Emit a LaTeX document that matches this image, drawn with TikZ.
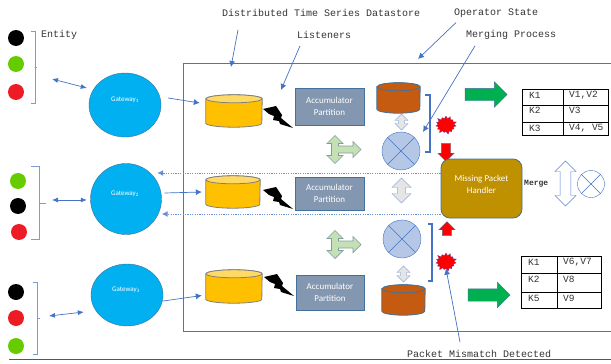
\documentclass[tikz,border=0pt]{standalone}
\usepackage{fontspec}
\setmainfont{Carlito}
\setmonofont{Liberation Mono}
\usetikzlibrary{arrows.meta,shapes.geometric,shapes.arrows,shapes.symbols}

\definecolor{lineblue}{HTML}{4472C4}
\definecolor{gatewayblue}{HTML}{00B0F0}
\definecolor{edgeblue}{HTML}{41719C}
\definecolor{accum}{HTML}{8497B0}
\definecolor{mergefill}{HTML}{B4C7E7}
\definecolor{handlergold}{HTML}{BF9000}
\definecolor{tgreen}{HTML}{C5E0B4}
\definecolor{tedge}{HTML}{7F9F9F}
\definecolor{dotgreen}{HTML}{66CC00}
\definecolor{dotred}{HTML}{ED1C24}
\definecolor{outgreen}{HTML}{00B050}
\definecolor{storebody}{HTML}{FFC000}
\definecolor{storeend}{HTML}{FFD966}
\definecolor{operfill}{HTML}{C55A11}

% name, x, y, width, height, body, end, edge
\newcommand{\drum}[8]{
    \node[rectangle, inner sep=0pt, minimum width=#4, minimum height=#5] (#1) at (#2,#3) {};
    \filldraw[fill=#6, draw=#8, line width=0.8pt] ([yshift=-4pt]#1.north west) -- ([yshift=4pt]#1.south west)
        arc[start angle=180, end angle=360, x radius={#4*0.5pt}, y radius=4pt] -- ([yshift=-4pt]#1.north east)
        arc[start angle=0, end angle=180, x radius={#4*0.5pt}, y radius=4pt] -- cycle;
    \filldraw[fill=#7, draw=#8, line width=0.8pt] ([yshift=-4pt]#1.north) ellipse[x radius={#4*0.5pt}, y radius=4pt];
}

\tikzset{
    link/.style={color=lineblue, line width=0.7pt, {Latex[length=6pt,width=5pt]}-{Latex[length=6pt,width=5pt]}},
    pointer/.style={color=lineblue, line width=0.7pt, -{Latex[length=6pt,width=6pt]}},
    dotlink/.style={color=lineblue!80, line width=1pt, dash pattern=on 1.2pt off 1.2pt, -{Latex[length=6pt,width=6pt]}},
    caption/.style={font=\ttfamily\fontsize{10}{10}\selectfont, inner sep=0pt, anchor=west, color=black!80},
    cell/.style={font=\ttfamily\fontsize{9.5}{10}\selectfont, inner sep=0pt, anchor=west, color=black!80},
    gateway/.style={ellipse, draw=edgeblue, fill=gatewayblue, inner sep=0pt},
    gwtext/.style={text=white, inner sep=0pt, font=\fontsize{7}{8}\selectfont},
    accumbox/.style={rectangle, draw=edgeblue, line width=0.8pt, fill=accum, text=white, inner sep=0pt, align=center, font=\fontsize{9}{12}\selectfont},
    merger/.style={circle, draw=lineblue, inner sep=0pt},
    burst/.style={starburst, starburst points=15, starburst point height=3.5pt, fill=red, draw=blue!60!black!70, line width=0.2pt, inner sep=0pt, minimum width=23pt, minimum height=20pt},
    bigarrow/.style={single arrow, fill=outgreen, draw=edgeblue, inner sep=6pt, single arrow head extend=6.5pt, single arrow head indent=0pt},
    redarrow/.style={single arrow, fill=red, draw=edgeblue, line width=0.3pt, inner sep=4.5pt, single arrow head extend=3.5pt, single arrow head indent=0pt, rotate=#1},
    swaparrow/.style={double arrow, draw=#1, inner sep=2.5pt, double arrow head extend=3.5pt, double arrow head indent=0pt, rotate=90},
    bolt/.pic={\fill[black] (0,0)--(13,-3)--(17,3)--(19,6)--(18,9)--(30,19)--(17,15)--(16,12)--(10,11)--(11,7)--(6,5)--cycle;},
    tarrow/.pic={\draw[draw=tedge, fill=tgreen, line width=0.7pt] (0,-14)--(8,-6)--(3.5,-6)--(3.5,-3.5)--(18,-3.5)--(18,-8)--(26,0)--(18,8)--(18,3.5)--(3.5,3.5)--(3.5,6)--(8,6)--(0,14)--(-8,6)--(-3.5,6)--(-3.5,-6)--(-8,-6)--cycle;}
}

\begin{document}
\begin{tikzpicture}[x=1pt, y=-1pt]
    \useasboundingbox (0,0) rectangle (611,364);

    % frame and bottom rule
    \draw[color=lineblue!85!gray, line width=0.8pt] (611,63) -- (183,63) -- (183,331) -- (611,331);
    \draw[color=lineblue!80!black, line width=1pt] (9,359) -- (611,359);

    % entities
    \foreach \x/\y/\c in {16/38/black, 16/64/dotgreen, 16/92/dotred,
                          18/181/dotgreen, 18/206/black, 19/232/dotred,
                          16/292/black, 16/318/dotred, 16/346/dotgreen}
        \fill[color=\c] (\x,\y) circle (8);

    % braces
    \draw[color=lineblue!70, line width=0.8pt] (31,31) -- (35,31) -- (35,103) -- (31,103) (35,67) -- (37,67);
    \draw[color=lineblue!70, line width=0.8pt] (31,166) -- (39,166) -- (39,239) -- (31,239) (39,203) -- (46,203);
    \draw[color=lineblue!70, line width=0.8pt] (33,282) -- (37,282) -- (37,354) -- (33,354) (37,318) -- (40,318);

    % gateways
    \node[gateway, minimum width=72, minimum height=64] (gw1) at (125,105) {};
    \node[gateway, minimum width=71, minimum height=71] (gw2) at (126,199) {};
    \node[gateway, minimum width=72, minimum height=62] (gw3) at (127,295) {};
    \node[gwtext] (gwtext1) at (125,100) {Gateway\textsubscript{1}};
    \node[gwtext] (gwtext2) at (125,194) {Gateway\textsubscript{2}};
    \node[gwtext] (gwtext3) at (126,290) {Gateway\textsubscript{3}};

    % datastores
    \drum{cyl1}{234}{111}{56}{32}{storebody}{storeend}{gray}
    \drum{cyl2}{233}{192}{54}{32}{storebody}{storeend}{gray}
    \drum{cyl3}{234}{286.5}{56}{33}{storebody}{storeend}{gray}
    \drum{oper1}{398.5}{98}{43}{30}{operfill}{operfill}{edgeblue}
    \drum{oper2}{403.5}{300}{43}{30}{operfill}{operfill}{edgeblue}

    % listeners
    \pic at (263,109) {bolt};
    \pic at (263,190) {bolt};
    \pic at (264,277) {bolt};

    % accumulators
    \node[accumbox, minimum width=69, minimum height=37] (acc1) at (329.5,106.5) {Accumulator\\Partition};
    \node[accumbox, minimum width=69, minimum height=33] (acc2) at (329.5,193.5) {Accumulator\\Partition};
    \node[accumbox, minimum width=68, minimum height=35] (acc3) at (330,292.5) {Accumulator\\Partition};

    % merging
    \pic at (335,149.5) {tarrow};
    \pic at (335,244.5) {tarrow};
    \node[merger, fill=mergefill, minimum size=38] (merge1) at (401,151) {};
    \node[merger, fill=mergefill, minimum size=38] (merge2) at (402,239) {};
    \draw[color=lineblue] (merge1.45) -- (merge1.225) (merge1.135) -- (merge1.315);
    \draw[color=lineblue] (merge2.45) -- (merge2.225) (merge2.135) -- (merge2.315);
    \node[swaparrow=lineblue!60, fill=black!10, minimum height=16, minimum width=13] (sw1) at (401.5,122) {};
    \node[swaparrow=lineblue!60, fill=black!10, minimum height=25, minimum width=19] (sw2) at (401.5,190.5) {};
    \node[swaparrow=lineblue!60, fill=black!10, minimum height=16, minimum width=13] (sw3) at (403.5,274) {};

    % merge brackets
    \draw[color=lineblue, line width=1.4pt] (425,95) -- (430,95) -- (430,152) -- (425,152);
    \draw[color=lineblue, line width=1.4pt] (428,224) -- (432,224) -- (432,281) -- (428,281);

    % mismatch and handler
    \node[burst] (burst1) at (446,125) {};
    \node[burst] (burst2) at (446,262) {};
    \node[redarrow=-90, minimum height=18, minimum width=16] (red1) at (446,150) {};
    \node[redarrow=90, minimum height=14, minimum width=16] (red2) at (447,231) {};
    \node[rectangle, rounded corners=9, draw=edgeblue, fill=handlergold, line width=0.8pt, minimum width=81, minimum height=59, inner sep=0pt] (handler) at (481.5,188.5) {};
    \node[text=white, align=center, inner sep=0pt, font=\fontsize{9}{12}\selectfont] (handlertext) at (481.5,184) {Missing Packet\\Handler};

    % output arrows
    \node[bigarrow, minimum height=42, minimum width=25] (out1) at (483,94.5) {};
    \node[bigarrow, minimum height=42, minimum width=25] (out2) at (486,295) {};

    % merge legend
    \node[font=\ttfamily\bfseries\fontsize{8}{8}\selectfont, inner sep=0pt, anchor=west, color=black!80] (legend) at (524,184) {Merge};
    \node[swaparrow=lineblue!90, fill=white, inner sep=3.5pt, double arrow head extend=3.5pt, minimum height=45, minimum width=21] (sw4) at (565.5,183.5) {};
    \node[merger, fill=white, minimum size=27] (mergekey) at (591,184) {};
    \draw[color=lineblue] (mergekey.45) -- (mergekey.225) (mergekey.135) -- (mergekey.315);

    % tables
    \draw[color=black, line width=0.8pt] (522,89) rectangle (608,135) (563,89) -- (563,135) (522,105) -- (608,105) (522,122) -- (608,122);
    \draw[color=black, line width=0.8pt] (521,256) rectangle (601,308) (557,256) -- (557,308) (521,273) -- (601,273) (521,292) -- (601,292);
    \foreach \y/\k/\v [count=\i] in {95/K1/{V1,V2}, 110/K2/V3, 128/K3/{V4, V5}} {
        \node[cell] (keya\i) at (529,\y) {\k};
        \node[cell] (vala\i) at (569,\y) {\v};
    }
    \foreach \y/\k/\v [count=\i] in {262/K1/{V6,V7}, 279/K2/V8, 298/K5/V9} {
        \node[cell] (keyb\i) at (528,\y) {\k};
        \node[cell] (valb\i) at (563,\y) {\v};
    }

    % captions
    \node[caption] (entity) at (41,35) {Entity};
    \node[caption] (dstore) at (222,13) {Distributed Time Series Datastore};
    \node[caption] (listen) at (297,35) {Listeners};
    \node[caption] (opstate) at (454,13) {Operator State};
    \node[caption] (mproc) at (466,35) {Merging Process};
    \node[caption] (mismatch) at (407,354) {Packet Mismatch Detected};

    % free ends
    \coordinate (ent1) at (52,79);
    \coordinate (ent2) at (52,200);
    \coordinate (ent3) at (49,316);
    \coordinate (frametop) at (231,67);
    \coordinate (opertop) at (418,59);
    \coordinate (listenend) at (281,90);
    \coordinate (mergeend) at (423,132);

    % connectors
    \draw[link] (ent1) -- ([shift={(-2,-17)}]gw1.west);
    \draw[link] (ent2) -- ([shift={(-3.5,1)}]gw2.west);
    \draw[link] (ent3) -- ([shift={(-7,17)}]gw3.west);
    \draw[pointer] ([shift={(7,-7)}]gw1.east) -- ([shift={(-6,-8)}]cyl1.west);
    \draw[pointer] ([shift={(3,-6)}]gw2.east) -- ([shift={(-4,0)}]cyl2.west);
    \draw[pointer] ([shift={(0,6)}]gw3.east) -- ([shift={(-4,9)}]cyl3.west);
    \draw[dotlink] ([shift={(0,-15.5)}]handler.west) -- ([shift={(-4.5,-26)}]gw2.east);
    \draw[dotlink] ([shift={(0,25.5)}]handler.west) -- ([shift={(0,15)}]gw2.east);
    \draw[pointer] ([shift={(16,13)}]dstore.south west) -- (frametop);
    \draw[pointer] ([shift={(3,7)}]listen.south west) -- (listenend);
    \draw[pointer] ([shift={(2,5)}]opstate.south west) -- (opertop);
    \draw[pointer] ([shift={(9,6)}]mproc.south west) -- (mergeend);
    \draw[pointer] ([shift={(53,-8)}]mismatch.north west) -- (burst2.south);
\end{tikzpicture}
\end{document}
